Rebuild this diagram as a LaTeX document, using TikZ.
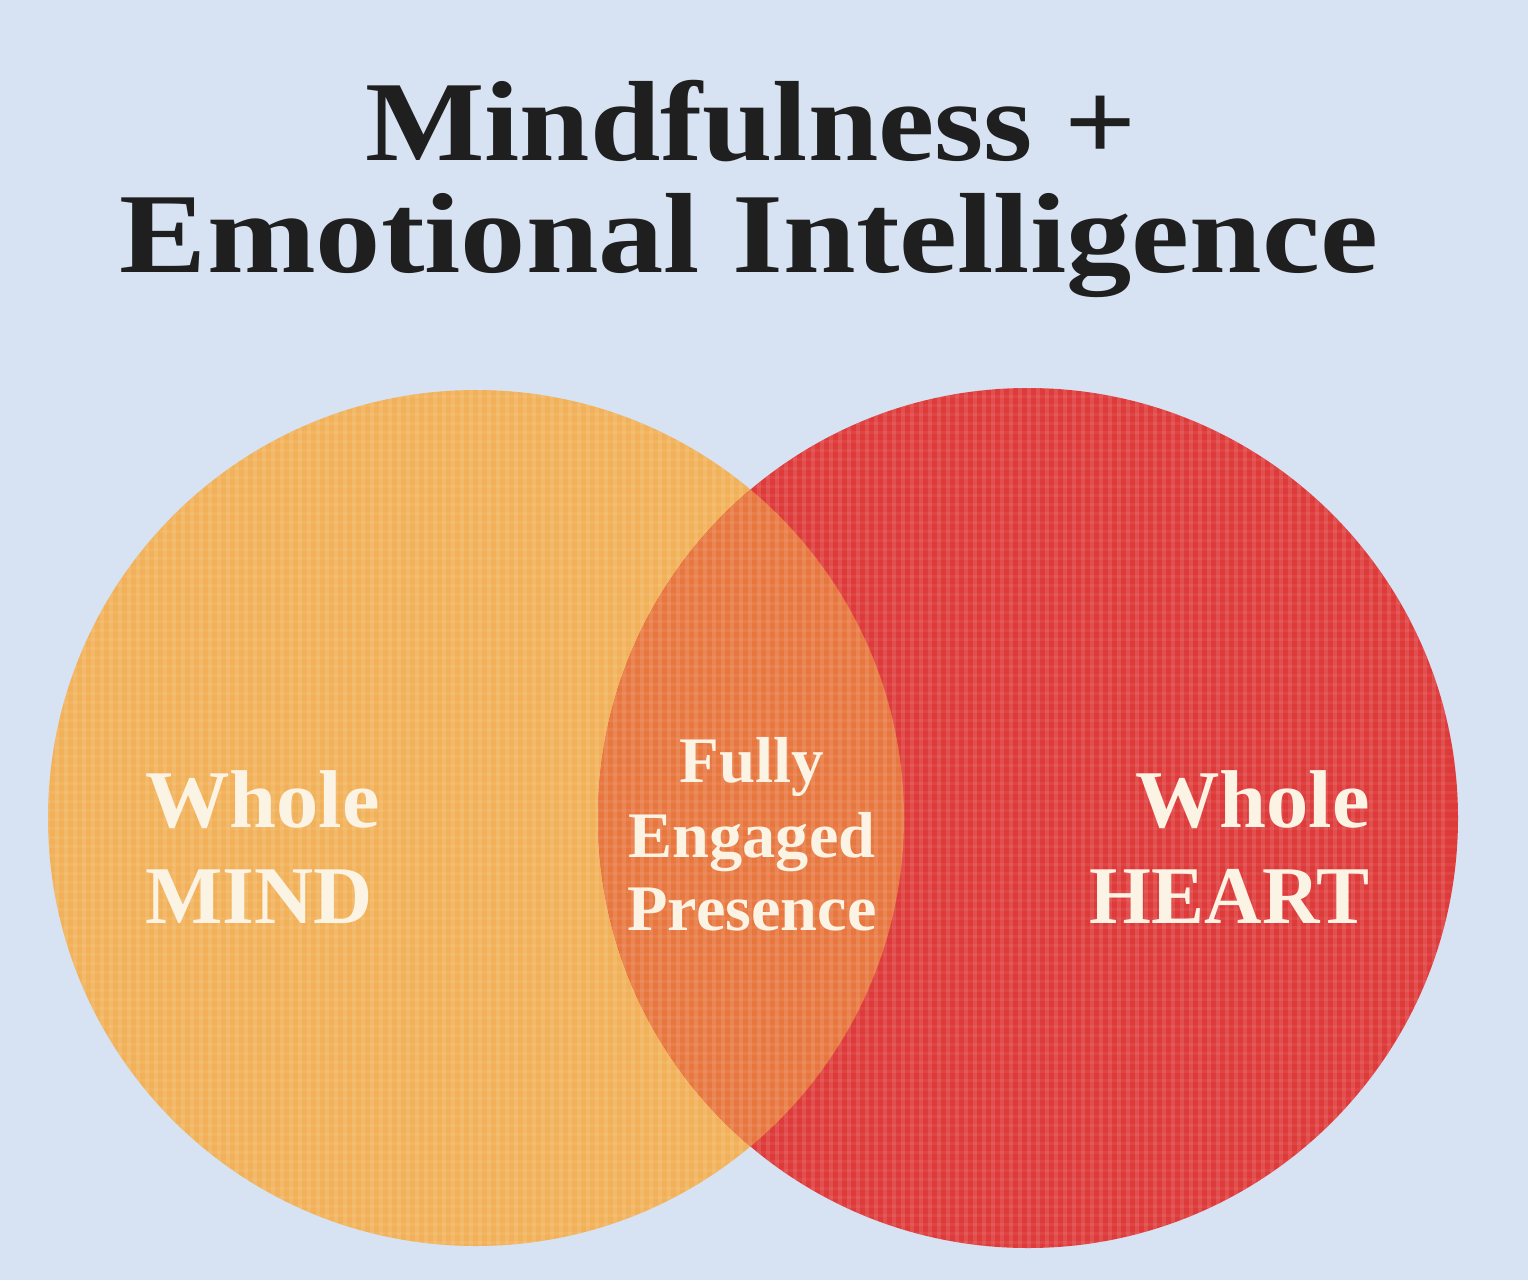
\documentclass[tikz,border=0pt]{standalone}
\usepackage{fontspec}
\setmainfont{Liberation Serif}
\definecolor{bgc}{HTML}{D7E3F3}
\definecolor{mindc}{HTML}{F2B158}
\definecolor{heartc}{HTML}{DF3A3A}
\definecolor{overc}{HTML}{E8773F}
\definecolor{labelc}{HTML}{FBF3E4}
\definecolor{titlec}{HTML}{1F1F1F}
\begin{document}
\begin{tikzpicture}[x=1pt,y=-1pt,
  titlefont/.style={font=\fontsize{114}{124}\selectfont\bfseries, text=titlec, inner sep=0pt},
  bigfont/.style={font=\fontsize{82}{90}\selectfont\bfseries, text=labelc, inner sep=0pt},
  midfont/.style={font=\fontsize{65}{72}\selectfont\bfseries, text=labelc, inner sep=0pt},
  disc/.style={circle, inner sep=0pt, minimum size=#1}]
\useasboundingbox (0,0) rectangle (1528,1280);
\fill[bgc] (0,0) rectangle (1528,1280);

% circles
\node[disc=856pt, fill=mindc] (mind) at (476,818) {};
\node[disc=860pt, fill=heartc] (heart) at (1028,818) {};
\begin{scope}
  \clip (476,818) circle[radius=428pt];
  \fill[overc] (1028,818) circle[radius=430pt];
\end{scope}

% woven texture
\begin{scope}
  \clip (476,818) circle[radius=428pt] (1028,818) circle[radius=430pt];
  \foreach \i in {0,...,155} {
    \fill[white, opacity=0.11] (46+\i*9, 385) rectangle ++(4,870);
  }
  \foreach \j in {0,...,96} {
    \fill[white, opacity=0.06] (40, 386+\j*9) rectangle ++(1430,3);
  }
\end{scope}

% title
\node[titlefont, anchor=base] (t1) at (751,160) {\scalebox{1.11}[1]{Mindfulness +}};
\node[titlefont, anchor=base] (t2) at (749,272) {\scalebox{1.145}[1]{Emotional Intelligence}};

% left label
\node[bigfont, anchor=base west] (m1) at (145,827) {\scalebox{1.03}[1]{Whole}};
\node[bigfont, anchor=base west] (m2) at (145,923) {MIND};

% right label
\node[bigfont, anchor=base east] (h1) at (1370,827) {\scalebox{1.03}[1]{Whole}};
\node[bigfont, anchor=base east] (h2) at (1370,923) {\scalebox{0.97}[1]{HEART}};

% middle label
\node[midfont, anchor=base] (c1) at (752,782) {Fully};
\node[midfont, anchor=base] (c2) at (752,857) {\scalebox{1.02}[1]{Engaged}};
\node[midfont, anchor=base] (c3) at (752,930) {\scalebox{1.02}[1]{Presence}};
\end{tikzpicture}
\end{document}
